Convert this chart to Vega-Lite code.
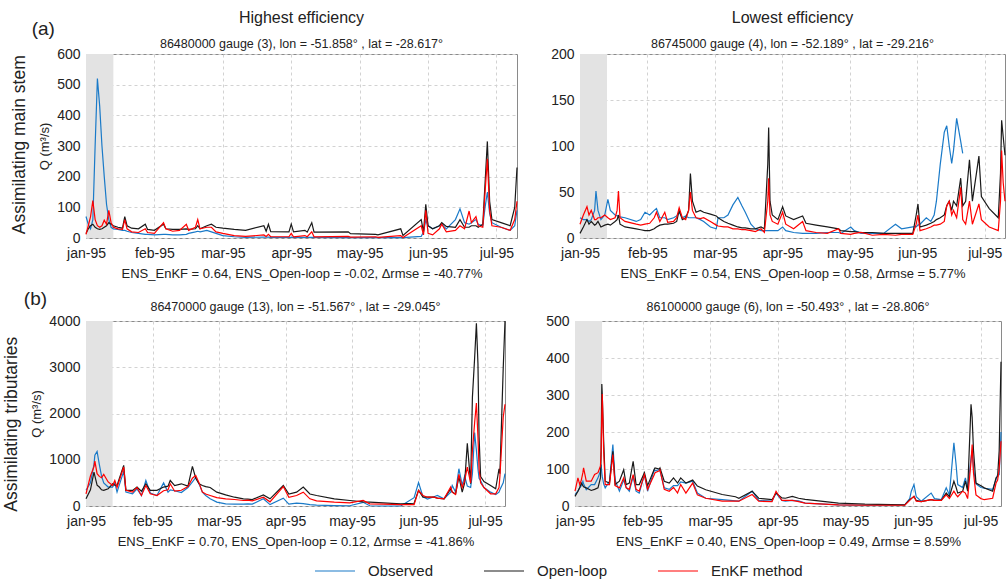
{
 "$schema": "https://vega.github.io/schema/vega-lite/v6.json",
 "padding": {"left": 2, "top": 9, "right": 0, "bottom": 0},
 "datasets": {
  "shade": [{"t": 0, "t2": 12}],
  "tl": [
{"t":0,"o":70,"m":15,"e":12},{"t":1,"o":45,"m":30,"e":40},{"t":2,"o":30,"m":40,"e":70},{"t":3,"o":60,"m":45,"e":122},{"t":4,"o":300,"m":35,"e":60},{"t":5,"o":520,"m":30,"e":40},{"t":6,"o":430,"m":28,"e":35},{"t":7,"o":300,"m":30,"e":40},{"t":8,"o":200,"m":35,"e":58},{"t":9,"o":110,"m":40,"e":45},{"t":10,"o":60,"m":50,"e":90},{"t":11,"o":35,"m":45,"e":50},{"t":12,"o":30,"m":40,"e":35},{"t":14,"o":28,"m":35,"e":30},{"t":16,"o":25,"m":32,"e":28},{"t":17,"o":25,"m":70,"e":60},{"t":18,"o":22,"m":40,"e":30},{"t":20,"o":18,"m":32,"e":20},{"t":23,"o":15,"m":30,"e":18},{"t":26,"o":12,"m":45,"e":30},{"t":27,"o":12,"m":28,"e":18},{"t":30,"o":10,"m":25,"e":15},{"t":34,"o":12,"m":45,"e":50},{"t":35,"o":12,"m":30,"e":30},{"t":38,"o":10,"m":28,"e":22},{"t":41,"o":10,"m":28,"e":25},{"t":44,"o":12,"m":30,"e":45},{"t":45,"o":15,"m":28,"e":25},{"t":48,"o":20,"m":30,"e":35},{"t":49,"o":22,"m":40,"e":60},{"t":50,"o":20,"m":30,"e":30},{"t":53,"o":25,"m":40,"e":35},{"t":55,"o":20,"m":45,"e":35},{"t":57,"o":15,"m":35,"e":20},{"t":60,"o":8,"m":32,"e":15},{"t":65,"o":4,"m":28,"e":8},{"t":70,"o":2,"m":25,"e":5},{"t":78,"o":3,"m":40,"e":10},{"t":79,"o":3,"m":22,"e":5},{"t":80,"o":3,"m":45,"e":12},{"t":81,"o":2,"m":21,"e":4},{"t":89,"o":2,"m":20,"e":4},{"t":90,"o":2,"m":45,"e":15},{"t":91,"o":2,"m":20,"e":4},{"t":96,"o":2,"m":25,"e":8},{"t":97,"o":2,"m":19,"e":4},{"t":99,"o":2,"m":50,"e":20},{"t":100,"o":2,"m":19,"e":4},{"t":115,"o":1,"m":20,"e":5},{"t":116,"o":1,"m":14,"e":3},{"t":127,"o":1,"m":12,"e":4},{"t":128,"o":1,"m":10,"e":2},{"t":138,"o":1,"m":30,"e":8},{"t":139,"o":1,"m":8,"e":2},{"t":147,"o":5,"m":60,"e":40},{"t":148,"o":20,"m":20,"e":10},{"t":149,"o":58,"m":110,"e":90},{"t":150,"o":40,"m":40,"e":15},{"t":152,"o":30,"m":30,"e":10},{"t":155,"o":40,"m":40,"e":30},{"t":156,"o":45,"m":50,"e":45},{"t":158,"o":30,"m":38,"e":20},{"t":162,"o":60,"m":35,"e":25},{"t":164,"o":95,"m":60,"e":40},{"t":166,"o":50,"m":35,"e":30},{"t":168,"o":45,"m":35,"e":88},{"t":169,"o":50,"m":40,"e":50},{"t":171,"o":60,"m":40,"e":70},{"t":172,"o":45,"m":35,"e":40},{"t":174,"o":40,"m":45,"e":35},{"t":175,"o":100,"m":180,"e":150},{"t":176,"o":150,"m":315,"e":258},{"t":177,"o":80,"m":120,"e":90},{"t":178,"o":50,"m":60,"e":40},{"t":182,"o":35,"m":50,"e":35},{"t":186,"o":25,"m":40,"e":25},{"t":188,"o":40,"m":100,"e":60},{"t":189,"o":90,"m":230,"e":120}
  ],
  "tr": [
{"t":0,"o":22,"m":5,"e":15},{"t":1.5,"o":20,"m":12,"e":25},{"t":3.1,"o":20,"m":20,"e":34},{"t":4,"o":18,"m":15,"e":25},{"t":5,"o":20,"m":18,"e":30},{"t":6.5,"o":30,"m":14,"e":20},{"t":7.1,"o":51,"m":15,"e":20},{"t":8,"o":30,"m":18,"e":22},{"t":9.3,"o":20,"m":12,"e":22},{"t":11,"o":25,"m":14,"e":25},{"t":12.4,"o":42,"m":15,"e":22},{"t":13.5,"o":30,"m":14,"e":20},{"t":15.6,"o":25,"m":18,"e":22},{"t":16.5,"o":24,"m":20,"e":30},{"t":17.1,"o":24,"m":25,"e":51},{"t":17.8,"o":23,"m":15,"e":22},{"t":20,"o":22,"m":12,"e":18},{"t":25,"o":18,"m":10,"e":15},{"t":27,"o":20,"m":9,"e":14},{"t":28.9,"o":28,"m":8,"e":15},{"t":31,"o":25,"m":8,"e":16},{"t":33,"o":30,"m":10,"e":22},{"t":34,"o":32,"m":12,"e":28},{"t":35.5,"o":22,"m":14,"e":18},{"t":37.7,"o":22,"m":15,"e":28},{"t":39,"o":20,"m":15,"e":17},{"t":41.6,"o":22,"m":16,"e":18},{"t":43,"o":24,"m":18,"e":22},{"t":44.1,"o":28,"m":30,"e":33},{"t":45.5,"o":22,"m":20,"e":22},{"t":47,"o":24,"m":22,"e":20},{"t":48.3,"o":22,"m":30,"e":30},{"t":49.1,"o":22,"m":70,"e":50},{"t":50,"o":22,"m":40,"e":30},{"t":51.6,"o":22,"m":28,"e":22},{"t":53.5,"o":20,"m":30,"e":21},{"t":55,"o":18,"m":28,"e":22},{"t":58,"o":12,"m":26,"e":18},{"t":60.6,"o":10,"m":24,"e":14},{"t":61.4,"o":22,"m":22,"e":13},{"t":64,"o":22,"m":18,"e":12},{"t":65.8,"o":25,"m":16,"e":12},{"t":68,"o":36,"m":14,"e":10},{"t":70.2,"o":44,"m":12,"e":10},{"t":72,"o":35,"m":11,"e":9},{"t":73.5,"o":28,"m":11,"e":9},{"t":76,"o":15,"m":10,"e":8},{"t":78,"o":10,"m":10,"e":7},{"t":80.5,"o":8,"m":12,"e":10},{"t":82,"o":8,"m":10,"e":6},{"t":83.5,"o":8,"m":80,"e":40},{"t":83.9,"o":8,"m":120,"e":65},{"t":84.5,"o":8,"m":40,"e":25},{"t":85.5,"o":8,"m":25,"e":18},{"t":88,"o":8,"m":20,"e":15},{"t":90.1,"o":12,"m":34,"e":28},{"t":91.5,"o":8,"m":24,"e":15},{"t":95,"o":6,"m":20,"e":10},{"t":99,"o":5,"m":24,"e":18},{"t":100.5,"o":5,"m":16,"e":8},{"t":105,"o":5,"m":14,"e":6},{"t":110,"o":6,"m":12,"e":5},{"t":115,"o":6,"m":10,"e":10},{"t":116,"o":5,"m":8,"e":5},{"t":120.4,"o":12,"m":7,"e":4},{"t":122,"o":8,"m":7,"e":5},{"t":125,"o":5,"m":6,"e":6},{"t":130,"o":5,"m":6,"e":3},{"t":135,"o":5,"m":5,"e":4},{"t":140.3,"o":15,"m":5,"e":3},{"t":143,"o":10,"m":5,"e":4},{"t":148,"o":12,"m":5,"e":4},{"t":149.5,"o":12,"m":25,"e":15},{"t":150.3,"o":14,"m":37,"e":25},{"t":151.2,"o":15,"m":12,"e":8},{"t":154,"o":22,"m":14,"e":10},{"t":156,"o":18,"m":16,"e":12},{"t":157.5,"o":25,"m":18,"e":14},{"t":158.5,"o":40,"m":20,"e":14},{"t":160.2,"o":80,"m":22,"e":15},{"t":162,"o":115,"m":25,"e":18},{"t":163.1,"o":122,"m":35,"e":35},{"t":164.2,"o":100,"m":40,"e":40},{"t":165.3,"o":81,"m":30,"e":25},{"t":166.1,"o":95,"m":40,"e":30},{"t":167.5,"o":130,"m":35,"e":22},{"t":169.3,"o":105,"m":65,"e":55},{"t":170.2,"o":92,"m":35,"e":20},{"t":171.5,"o":null,"m":40,"e":15},{"t":173.2,"o":null,"m":85,"e":40},{"t":174.5,"o":null,"m":40,"e":15},{"t":177.4,"o":null,"m":89,"e":37},{"t":178.5,"o":null,"m":45,"e":20},{"t":182,"o":null,"m":32,"e":12},{"t":186,"o":null,"m":22,"e":8},{"t":187,"o":null,"m":70,"e":40},{"t":187.5,"o":null,"m":128,"e":95},{"t":188.2,"o":null,"m":110,"e":60},{"t":189,"o":null,"m":90,"e":40}
  ],
  "bl": [
{"t":0,"o":340,"m":155,"e":264},{"t":2,"o":500,"m":350,"e":648},{"t":3.6,"o":900,"m":734,"e":850},{"t":4,"o":1100,"m":650,"e":972},{"t":5,"o":1180,"m":450,"e":700},{"t":6,"o":900,"m":410,"e":640},{"t":7,"o":650,"m":350,"e":612},{"t":8,"o":500,"m":338,"e":684},{"t":10,"o":410,"m":371,"e":520},{"t":12,"o":410,"m":480,"e":443},{"t":13,"o":500,"m":450,"e":551},{"t":14,"o":300,"m":443,"e":400},{"t":17,"o":750,"m":878,"e":842},{"t":18,"o":300,"m":338,"e":338},{"t":21,"o":264,"m":338,"e":300},{"t":23,"o":371,"m":410,"e":400},{"t":25,"o":227,"m":320,"e":227},{"t":27,"o":551,"m":480,"e":443},{"t":29,"o":280,"m":338,"e":264},{"t":32,"o":227,"m":338,"e":227},{"t":35,"o":500,"m":410,"e":330},{"t":37,"o":300,"m":430,"e":350},{"t":38,"o":350,"m":551,"e":480},{"t":40,"o":330,"m":440,"e":320},{"t":43,"o":290,"m":480,"e":340},{"t":46,"o":400,"m":430,"e":420},{"t":48,"o":520,"m":856,"e":600},{"t":49.5,"o":616,"m":600,"e":660},{"t":51,"o":480,"m":480,"e":500},{"t":52.5,"o":300,"m":443,"e":300},{"t":54,"o":227,"m":420,"e":260},{"t":56,"o":155,"m":400,"e":227},{"t":59,"o":83,"m":300,"e":180},{"t":63,"o":47,"m":240,"e":155},{"t":67,"o":40,"m":190,"e":140},{"t":71,"o":40,"m":155,"e":119},{"t":73,"o":45,"m":150,"e":125},{"t":75,"o":40,"m":140,"e":110},{"t":80,"o":155,"m":240,"e":190},{"t":83,"o":30,"m":155,"e":90},{"t":89,"o":170,"m":443,"e":420},{"t":91.5,"o":40,"m":260,"e":190},{"t":95,"o":60,"m":300,"e":227},{"t":98,"o":50,"m":410,"e":300},{"t":101,"o":30,"m":260,"e":155},{"t":104,"o":20,"m":227,"e":110},{"t":112,"o":10,"m":155,"e":83},{"t":119,"o":5,"m":119,"e":68},{"t":125,"o":80,"m":90,"e":119},{"t":128,"o":5,"m":83,"e":47},{"t":134,"o":0,"m":68,"e":40},{"t":142,"o":0,"m":47,"e":30},{"t":148,"o":180,"m":60,"e":30},{"t":150,"o":508,"m":338,"e":338},{"t":152,"o":200,"m":190,"e":227},{"t":154,"o":150,"m":190,"e":190},{"t":157,"o":200,"m":190,"e":190},{"t":158.5,"o":227,"m":170,"e":170},{"t":161.5,"o":155,"m":155,"e":155},{"t":164.5,"o":300,"m":371,"e":410},{"t":165.2,"o":443,"m":300,"e":300},{"t":166.7,"o":300,"m":260,"e":250},{"t":168.2,"o":806,"m":637,"e":684},{"t":169.7,"o":450,"m":300,"e":400},{"t":170.8,"o":648,"m":500,"e":550},{"t":172,"o":430,"m":1354,"e":842},{"t":173.5,"o":400,"m":480,"e":500},{"t":174.3,"o":700,"m":2354,"e":1200},{"t":175.3,"o":1590,"m":3200,"e":1800},{"t":176.1,"o":1200,"m":3953,"e":2226},{"t":176.8,"o":800,"m":3074,"e":1500},{"t":177.3,"o":600,"m":1500,"e":800},{"t":178,"o":550,"m":637,"e":500},{"t":179.5,"o":400,"m":529,"e":400},{"t":182.5,"o":300,"m":443,"e":264},{"t":184.8,"o":250,"m":371,"e":264},{"t":186.3,"o":300,"m":806,"e":400},{"t":186.7,"o":350,"m":700,"e":637},{"t":188.2,"o":500,"m":2981,"e":1922},{"t":189,"o":700,"m":4000,"e":2200}
  ],
  "br": [
{"t":0,"o":31,"m":26,"e":40},{"t":1.3,"o":40,"m":40,"e":76},{"t":2.1,"o":49,"m":50,"e":58},{"t":2.8,"o":55,"m":62,"e":70},{"t":3.5,"o":67,"m":55,"e":90},{"t":3.8,"o":60,"m":52,"e":103},{"t":5,"o":44,"m":49,"e":67},{"t":7.2,"o":58,"m":42,"e":67},{"t":8.7,"o":58,"m":45,"e":85},{"t":10.2,"o":76,"m":49,"e":90},{"t":11.3,"o":95,"m":76,"e":108},{"t":11.6,"o":112,"m":150,"e":150},{"t":11.9,"o":90,"m":330,"e":250},{"t":12.1,"o":80,"m":300,"e":303},{"t":12.7,"o":60,"m":180,"e":150},{"t":13.4,"o":49,"m":67,"e":58},{"t":15.3,"o":67,"m":62,"e":58},{"t":16.8,"o":166,"m":148,"e":139},{"t":17.8,"o":70,"m":58,"e":55},{"t":19.7,"o":40,"m":67,"e":49},{"t":21.6,"o":70,"m":98,"e":76},{"t":22.7,"o":50,"m":58,"e":49},{"t":24.1,"o":40,"m":62,"e":45},{"t":25.8,"o":80,"m":121,"e":85},{"t":27.1,"o":40,"m":58,"e":45},{"t":28.5,"o":35,"m":58,"e":40},{"t":30.8,"o":85,"m":90,"e":85},{"t":32.2,"o":40,"m":55,"e":45},{"t":35.2,"o":98,"m":100,"e":85},{"t":35.5,"o":95,"m":103,"e":90},{"t":37.4,"o":98,"m":100,"e":95},{"t":37.7,"o":95,"m":103,"e":98},{"t":39.6,"o":49,"m":67,"e":45},{"t":41.8,"o":45,"m":62,"e":40},{"t":43.7,"o":55,"m":76,"e":50},{"t":45.5,"o":55,"m":62,"e":35},{"t":46.9,"o":65,"m":76,"e":58},{"t":49.2,"o":62,"m":62,"e":35},{"t":52.2,"o":67,"m":70,"e":62},{"t":54.3,"o":35,"m":54,"e":30},{"t":58,"o":21,"m":44,"e":21},{"t":65.3,"o":17,"m":31,"e":13},{"t":71.2,"o":14,"m":25,"e":13},{"t":72.7,"o":13,"m":21,"e":13},{"t":78.6,"o":40,"m":40,"e":31},{"t":81.5,"o":15,"m":21,"e":13},{"t":87.4,"o":13,"m":17,"e":12},{"t":89.2,"o":35,"m":35,"e":40},{"t":91.8,"o":15,"m":22,"e":15},{"t":93.3,"o":13,"m":21,"e":15},{"t":96.4,"o":15,"m":26,"e":15},{"t":99.2,"o":14,"m":21,"e":12},{"t":102.1,"o":8,"m":18,"e":8},{"t":116.9,"o":3,"m":8,"e":3},{"t":128.6,"o":2,"m":5,"e":2},{"t":146.3,"o":3,"m":3,"e":2},{"t":148.5,"o":20,"m":17,"e":15},{"t":149.2,"o":40,"m":20,"e":20},{"t":150.4,"o":58,"m":26,"e":26},{"t":151.4,"o":25,"m":15,"e":13},{"t":153.6,"o":13,"m":12,"e":12},{"t":158,"o":35,"m":17,"e":17},{"t":159.5,"o":20,"m":15,"e":15},{"t":162.5,"o":17,"m":15,"e":15},{"t":164.7,"o":49,"m":35,"e":30},{"t":166.1,"o":30,"m":25,"e":20},{"t":168.1,"o":171,"m":67,"e":40},{"t":169.1,"o":110,"m":50,"e":30},{"t":169.8,"o":58,"m":35,"e":25},{"t":172,"o":50,"m":40,"e":40},{"t":173.2,"o":76,"m":67,"e":35},{"t":174.2,"o":45,"m":40,"e":20},{"t":175.7,"o":130,"m":275,"e":120},{"t":176.2,"o":150,"m":240,"e":166},{"t":176.8,"o":100,"m":150,"e":90},{"t":177.9,"o":60,"m":62,"e":30},{"t":180.1,"o":50,"m":55,"e":20},{"t":181.6,"o":48,"m":49,"e":17},{"t":185.3,"o":45,"m":40,"e":21},{"t":186.8,"o":72,"m":76,"e":62},{"t":187.5,"o":85,"m":80,"e":70},{"t":188.2,"o":85,"m":150,"e":100},{"t":189,"o":200,"m":390,"e":175}
  ]
 },
 "config": {
  "font": "Liberation Sans",
  "view": {"stroke": "#8a8a8a", "strokeWidth": 1},
  "axis": {"domain": false, "ticks": false, "grid": true, "gridColor": "#d2d2d2", "gridDash": [3, 3], "labelFontSize": 14, "labelColor": "#222", "titleFontWeight": "normal", "titleColor": "#222", "labelPadding": 6},
  "axisX": {"titleFontSize": 13, "titlePadding": 7, "labelPadding": 8, "labelFlush": false},
  "axisY": {"titleFontSize": 13, "titlePadding": 5, "format": "d"},
  "title": {"fontWeight": "normal", "color": "#222", "fontSize": 16, "subtitleFontSize": 12.5, "subtitleColor": "#222", "subtitlePadding": 12, "offset": -3},
  "legend": {"symbolType": "stroke", "symbolSize": 1600, "symbolStrokeWidth": 1.6, "labelFontSize": 15, "labelColor": "#222", "labelOffset": 12, "columnPadding": 47},
  "line": {"strokeWidth": 1.2}
 },
 "spacing": 9,
 "vconcat": [
  {
   "title": {"text": "(a)", "anchor": "start", "fontSize": 19, "dx": 21, "dy": 30, "offset": 0},
   "vconcat": [{
    "title": {"text": "Assimilating main stem", "orient": "left", "fontSize": 17.5, "anchor": "middle", "offset": 10},
    "spacing": 30,
    "hconcat": [
     {
      "width": 431, "height": 184,
      "title": {"text": "Highest efficiency", "subtitle": "86480000 gauge (3), lon = -51.858° , lat = -28.617°"},
      "encoding": {"x": {"field": "t", "type": "quantitative", "scale": {"domain": [0, 189], "nice": false}, "axis": {"values": [0, 30, 60, 90, 120, 150, 180], "labelExpr": "['jan-95','feb-95','mar-95','apr-95','may-95','jun-95','jul-95'][round(datum.value/30)]", "title": "ENS_EnKF = 0.64, ENS_Open-loop = -0.02, Δrmse = -40.77%"}}},
      "layer": [
       {"data": {"name": "shade"}, "mark": {"type": "rect", "color": "#e3e3e3"}, "encoding": {"x2": {"field": "t2"}}},
       {"data": {"name": "tl"}, "mark": {"type": "line"}, "encoding": {"y": {"field": "o", "type": "quantitative", "scale": {"domain": [0, 600]}, "axis": {"values": [0, 100, 200, 300, 400, 500, 600], "title": "Q (m³/s)"}}, "color": {"datum": "Observed", "scale": {"domain": ["Observed", "Open-loop", "EnKF method"], "range": ["#1a7ac8", "#1a1a1a", "#ff0000"]}, "legend": {"title": null, "orient": "none", "direction": "horizontal", "legendX": 228, "legendY": 496}}}},
       {"data": {"name": "tl"}, "mark": {"type": "line"}, "encoding": {"y": {"field": "m", "type": "quantitative", "axis": {"values": [0, 100, 200, 300, 400, 500, 600], "title": "Q (m³/s)"}}, "color": {"datum": "Open-loop"}}},
       {"data": {"name": "tl"}, "mark": {"type": "line"}, "encoding": {"y": {"field": "e", "type": "quantitative", "axis": {"values": [0, 100, 200, 300, 400, 500, 600], "title": "Q (m³/s)"}}, "color": {"datum": "EnKF method"}}}
      ]
     },
     {
      "width": 425, "height": 184,
      "title": {"text": "Lowest efficiency", "subtitle": "86745000 gauge (4), lon = -52.189° , lat = -29.216°"},
      "encoding": {"x": {"field": "t", "type": "quantitative", "scale": {"domain": [0, 189], "nice": false}, "axis": {"values": [0, 30, 60, 90, 120, 150, 180], "labelExpr": "['jan-95','feb-95','mar-95','apr-95','may-95','jun-95','jul-95'][round(datum.value/30)]", "title": "ENS_EnKF = 0.54, ENS_Open-loop = 0.58, Δrmse = 5.77%"}}},
      "layer": [
       {"data": {"name": "shade"}, "mark": {"type": "rect", "color": "#e3e3e3"}, "encoding": {"x2": {"field": "t2"}}},
       {"data": {"name": "tr"}, "mark": {"type": "line"}, "encoding": {"y": {"field": "o", "type": "quantitative", "scale": {"domain": [0, 200]}, "axis": {"values": [0, 50, 100, 150, 200], "title": null}}, "color": {"datum": "Observed", "scale": {"domain": ["Observed", "Open-loop", "EnKF method"], "range": ["#1a7ac8", "#1a1a1a", "#ff0000"]}, "legend": {"title": null, "orient": "none", "direction": "horizontal", "legendX": 228, "legendY": 496}}}},
       {"data": {"name": "tr"}, "mark": {"type": "line"}, "encoding": {"y": {"field": "m", "type": "quantitative", "axis": {"values": [0, 50, 100, 150, 200], "title": null}}, "color": {"datum": "Open-loop"}}},
       {"data": {"name": "tr"}, "mark": {"type": "line"}, "encoding": {"y": {"field": "e", "type": "quantitative", "axis": {"values": [0, 50, 100, 150, 200], "title": null}}, "color": {"datum": "EnKF method"}}}
      ]
     }
    ]
   }]
  },
  {
   "title": {"text": "(b)", "anchor": "start", "fontSize": 19, "dx": 21, "dy": 9, "offset": 0},
   "vconcat": [{
    "title": {"text": "Assimilating tributaries", "orient": "left", "fontSize": 17.5, "anchor": "middle", "offset": 10},
    "spacing": 37,
    "hconcat": [
     {
      "width": 419, "height": 185,
      "title": {"text": "86470000 gauge (13), lon = -51.567° , lat = -29.045°", "fontSize": 12.5, "offset": 1},
      "encoding": {"x": {"field": "t", "type": "quantitative", "scale": {"domain": [0, 189], "nice": false}, "axis": {"values": [0, 30, 60, 90, 120, 150, 180], "labelExpr": "['jan-95','feb-95','mar-95','apr-95','may-95','jun-95','jul-95'][round(datum.value/30)]", "title": "ENS_EnKF = 0.70, ENS_Open-loop = 0.12, Δrmse = -41.86%"}}},
      "layer": [
       {"data": {"name": "shade"}, "mark": {"type": "rect", "color": "#e3e3e3"}, "encoding": {"x2": {"field": "t2"}}},
       {"data": {"name": "bl"}, "mark": {"type": "line"}, "encoding": {"y": {"field": "o", "type": "quantitative", "scale": {"domain": [0, 4000]}, "axis": {"values": [0, 1000, 2000, 3000, 4000], "title": "Q (m³/s)"}}, "color": {"datum": "Observed", "scale": {"domain": ["Observed", "Open-loop", "EnKF method"], "range": ["#1a7ac8", "#1a1a1a", "#ff0000"]}, "legend": {"title": null, "orient": "none", "direction": "horizontal", "legendX": 228, "legendY": 496}}}},
       {"data": {"name": "bl"}, "mark": {"type": "line"}, "encoding": {"y": {"field": "m", "type": "quantitative", "axis": {"values": [0, 1000, 2000, 3000, 4000], "title": "Q (m³/s)"}}, "color": {"datum": "Open-loop"}}},
       {"data": {"name": "bl"}, "mark": {"type": "line"}, "encoding": {"y": {"field": "e", "type": "quantitative", "axis": {"values": [0, 1000, 2000, 3000, 4000], "title": "Q (m³/s)"}}, "color": {"datum": "EnKF method"}}}
      ]
     },
     {
      "width": 426, "height": 185,
      "title": {"text": "86100000 gauge (6), lon = -50.493° , lat = -28.806°", "fontSize": 12.5, "offset": 1},
      "encoding": {"x": {"field": "t", "type": "quantitative", "scale": {"domain": [0, 189], "nice": false}, "axis": {"values": [0, 30, 60, 90, 120, 150, 180], "labelExpr": "['jan-95','feb-95','mar-95','apr-95','may-95','jun-95','jul-95'][round(datum.value/30)]", "title": "ENS_EnKF = 0.40, ENS_Open-loop = 0.49, Δrmse = 8.59%"}}},
      "layer": [
       {"data": {"name": "shade"}, "mark": {"type": "rect", "color": "#e3e3e3"}, "encoding": {"x2": {"field": "t2"}}},
       {"data": {"name": "br"}, "mark": {"type": "line"}, "encoding": {"y": {"field": "o", "type": "quantitative", "scale": {"domain": [0, 500]}, "axis": {"values": [0, 100, 200, 300, 400, 500], "title": null}}, "color": {"datum": "Observed", "scale": {"domain": ["Observed", "Open-loop", "EnKF method"], "range": ["#1a7ac8", "#1a1a1a", "#ff0000"]}, "legend": {"title": null, "orient": "none", "direction": "horizontal", "legendX": 228, "legendY": 496}}}},
       {"data": {"name": "br"}, "mark": {"type": "line"}, "encoding": {"y": {"field": "m", "type": "quantitative", "axis": {"values": [0, 100, 200, 300, 400, 500], "title": null}}, "color": {"datum": "Open-loop"}}},
       {"data": {"name": "br"}, "mark": {"type": "line"}, "encoding": {"y": {"field": "e", "type": "quantitative", "axis": {"values": [0, 100, 200, 300, 400, 500], "title": null}}, "color": {"datum": "EnKF method"}}}
      ]
     }
    ]
   }]
  }
 ]
}
